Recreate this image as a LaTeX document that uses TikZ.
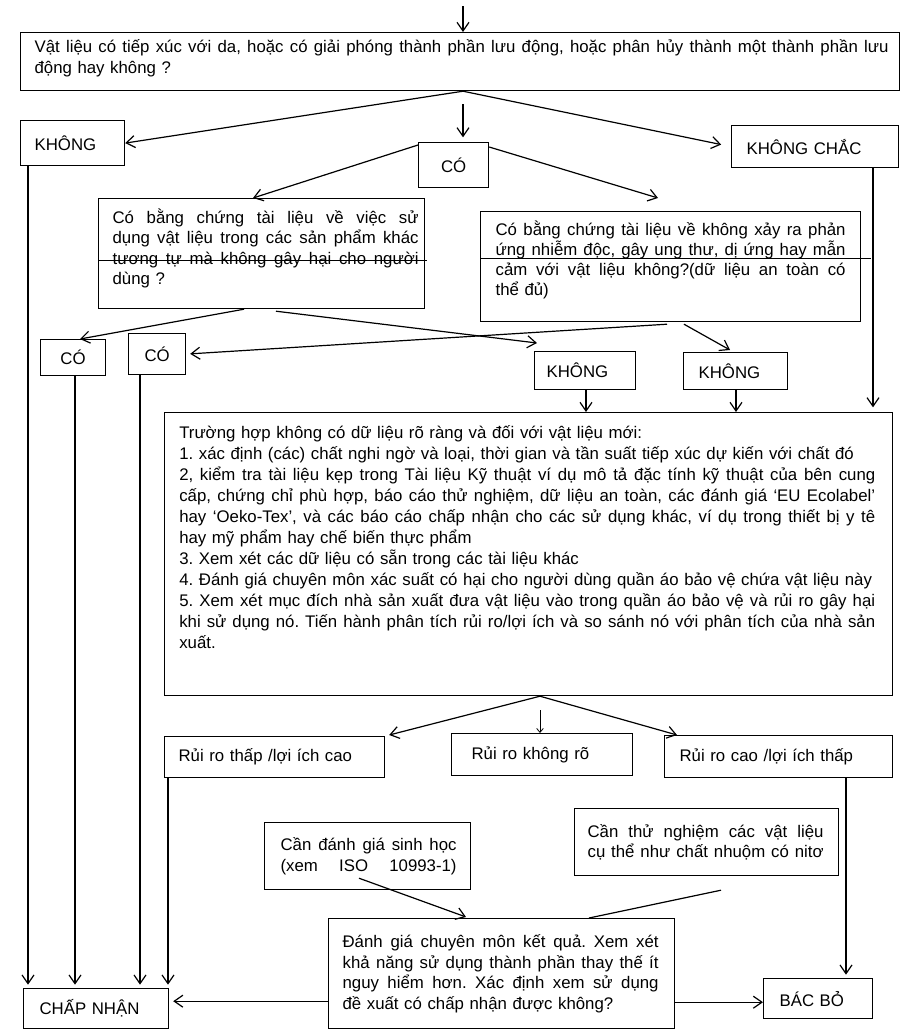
\documentclass[tikz,border=0pt]{standalone}
\usepackage{fontspec}
\setmainfont{Liberation Sans}
\usetikzlibrary{arrows.meta,calc}
\newlength\px \setlength\px{0.75pt}
\newcommand{\jl}[2]{\makebox[#1\px][s]{\spaceskip=0pt\relax #2}}
\newcommand{\dn}[1]{\rule[-#1\px]{0pt}{#1\px}}
\newcommand{\bxn}[8][]{\node[bx, minimum width=#5*0.75pt, minimum height=#6*0.75pt, inner xsep=#7*0.75pt, text width=(#5-2*#7)*0.75pt, #1] (#2) at (#3,#4) {#8};}
\tikzset{
  bx/.style={draw, line width=0.9pt, anchor=north west, align=left, inner ysep=1pt,
    font=\fontsize{12.6}{15.4}\selectfont\frenchspacing},
  txt/.style={anchor=north west, align=left, inner sep=0pt,
    font=\fontsize{12.6}{15.75}\selectfont\frenchspacing},
  ar/.style={line width=0.9pt, -{Straight Barb[length=6.5pt,width=9pt]}},
  sar/.style={line width=0.6pt, -{Straight Barb[length=3pt,width=5pt]}},
  ln/.style={line width=0.9pt},
  strike/.style={line width=0.6pt}
}
\begin{document}
\begin{tikzpicture}[x=0.75pt,y=-0.75pt]
\useasboundingbox (0,0) rectangle (901,1029);
% boxes
\bxn{q1}{20}{32}{879}{58}{14}{\jl{854}{Vật liệu có tiếp xúc với da, hoặc có giải phóng thành phần lưu động, hoặc phân hủy thành một thành phần lưu}\\động hay không ?\dn{10}}
\bxn{khong}{20}{120}{104}{45}{14}{KHÔNG}
\bxn[align=center]{co}{418}{142}{70}{45}{5}{CÓ}
\bxn{kc}{731}{125}{167}{42}{15}{KHÔNG CHẮC}
\bxn{qa}{98}{198}{326}{110}{14}{\jl{306}{Có bằng chứng tài liệu về việc sử}\\\jl{306}{dụng vật liệu trong các sản phẩm khác}\\\jl{306}{tương tự mà không gây hại cho người}\\dùng ?\dn{14}}
\bxn[font=\fontsize{12.6}{15}\selectfont\frenchspacing]{qb}{480}{211}{380}{110}{15}{\jl{350}{Có bằng chứng tài liệu về không xảy ra phản}\\\jl{350}{ứng nhiễm độc, gây ung thư, dị ứng hay mẫn}\\\jl{350}{cảm với vật liệu không?(dữ liệu an toàn có}\\thể đủ)\dn{16}}
\bxn[align=center]{co1}{40}{339}{65}{36}{4}{CÓ}
\bxn[align=center]{co2}{128}{333}{57}{41}{4}{CÓ}
\bxn{k1}{534}{351}{101}{38}{12}{KHÔNG}
\bxn{k2}{683}{352}{104}{37}{15}{KHÔNG}
\bxn{big}{164}{412}{728}{283}{15}{}
\node[txt, text width=715*0.75pt] (bigtxt) at (179,425) {Trường hợp không có dữ liệu rõ ràng và đối với vật liệu mới:\\
1. xác định (các) chất nghi ngờ và loại, thời gian và tần suất tiếp xúc dự kiến với chất đó\\
\jl{696}{2, kiểm tra tài liệu kẹp trong Tài liệu Kỹ thuật ví dụ mô tả đặc tính kỹ thuật của bên cung}\\
\jl{696}{cấp, chứng chỉ phù hợp, báo cáo thử nghiệm, dữ liệu an toàn, các đánh giá ‘EU Ecolabel’}\\
\jl{696}{hay ‘Oeko-Tex’, và các báo cáo chấp nhận cho các sử dụng khác, ví dụ trong thiết bị y tê}\\
hay mỹ phẩm hay chế biến thực phẩm\\
3. Xem xét các dữ liệu có sẵn trong các tài liệu khác\\
4. Đánh giá chuyên môn xác suất có hại cho người dùng quần áo bảo vệ chứa vật liệu này\\
\jl{696}{5. Xem xét mục đích nhà sản xuất đưa vật liệu vào trong quần áo bảo vệ và rủi ro gây hại}\\
\jl{696}{khi sử dụng nó. Tiến hành phân tích rủi ro/lợi ích và so sánh nó với phân tích của nhà sản}\\
xuất.};
\bxn{r1}{164}{736}{220}{41}{14}{Rủi ro thấp /lợi ích cao}
\bxn{r2}{451}{733}{181}{42}{20}{Rủi ro không rõ}
\bxn{r3}{664}{735}{228}{42}{15}{Rủi ro cao /lợi ích thấp}
\bxn{sh}{264}{822}{206}{67}{16}{\jl{176}{Cần đánh giá sinh học}\\\jl{176}{(xem ISO 10993-1)}}
\bxn{tn}{574}{808}{264}{67}{13}{\jl{236}{Cần thử nghiệm các vật liệu}\\\jl{236}{cụ thể như chất nhuộm có nitơ}}
\bxn{ev}{328}{918}{346}{110}{14}{\jl{316}{Đánh giá chuyên môn kết quả. Xem xét}\\\jl{316}{khả năng sử dụng thành phần thay thế ít}\\\jl{316}{nguy hiểm hơn. Xác định xem sử dụng}\\đề xuất có chấp nhận được không?}
\bxn{cn}{23}{988}{145}{40}{16}{CHẤP NHẬN}
\bxn{bb}{763}{978}{109}{40}{16}{BÁC BỎ}
% connectors
\coordinate (top0) at (463,6);
\draw[ar] (top0) -- (top0 |- q1.north);
\coordinate (q1s) at (q1.south -| top0);
\draw[ar] (q1s) -- (khong.east);
\draw[ar, shorten >=7.5pt] (q1s) -- (kc.west);
\coordinate (m1) at ($(q1s)+(0,13)$);
\draw[ar, shorten >=3.5pt] (m1) -- (m1 |- co.north);
\draw[ar] ($(co.north west)+(0,3)$) -- ($(qa.north west)+(155,0)$);
\coordinate (qbarr) at ($(qb.north west)+(178,-13)$);
\draw[ar] ($(co.north east)+(0,5)$) -- (qbarr);
\draw[ar] ($(qa.south west)+(146,0)$) -- ($(co1.north west)+(40,0)$);
\draw[ar] ($(qa.south west)+(178,2)$) -- ($(k1.north west)+(3,-8)$);
\draw[ar, shorten >=3pt] ($(qb.south west)+(187,2)$) -- (co2.east);
\draw[ar] ($(qb.south west)+(204,2)$) -- ($(k2.north west)+(47,-2)$);
% strike-through lines
\draw[strike] ($(qa.north west)+(0,62)$) -- ($(qa.north west)+(329,62)$);
\draw[strike] ($(qb.north west)+(0,47)$) -- ($(qb.north west)+(391,47)$);
% verticals to CHAP NHAN
\coordinate (v1) at ($(khong.south west)+(8,0)$);
\draw[ar, shorten >=2.5pt] (v1) -- (v1 |- cn.north);
\coordinate (v2) at ($(co1.south west)+(35,0)$);
\draw[ar, shorten >=2.5pt] (v2) -- (v2 |- cn.north);
\coordinate (v3) at ($(co2.south west)+(12,0)$);
\draw[ar, shorten >=2.5pt] (v3) -- (v3 |- cn.north);
\coordinate (v4) at ($(r1.south west)+(4,0)$);
\draw[ar, shorten >=2.5pt] (v4) -- (v4 |- cn.north);
% verticals into big box
\coordinate (v5) at ($(k1.south west)+(52,0)$);
\draw[ar] (v5) -- (v5 |- big.north);
\coordinate (v6) at ($(k2.south west)+(53,0)$);
\draw[ar] (v6) -- (v6 |- big.north);
\coordinate (v7) at ($(kc.south west)+(142,0)$);
\draw[ar, shorten >=3.5pt] (v7) -- (v7 |- big.north);
% big box branches
\coordinate (bb0) at ($(big.south west)+(376,0)$);
\draw[ar] (bb0) -- ($(r1.north east)+(4,-1)$);
\draw[sar] ($(bb0)+(0,14)$) -- (bb0 |- r2.north);
\draw[ar] (bb0) -- ($(r3.north west)+(13,0)$);
\coordinate (v8) at ($(r3.south west)+(182,0)$);
\draw[ar, shorten >=2.5pt] (v8) -- (v8 |- bb.north);
% into evaluation box
\draw[ar] ($(sh.south west)+(95,-12)$) -- ($(ev.north west)+(138,-1)$);
\draw[ln] ($(tn.south west)+(147,14)$) -- ($(ev.north west)+(261,0)$);
\coordinate (evl) at ($(ev.south west)+(0,-28)$);
\draw[ar, shorten >=3pt] (evl) -- (evl -| cn.east);
\coordinate (evr) at ($(ev.south east)+(0,-27)$);
\draw[ar] (evr) -- (evr -| bb.west);
\end{tikzpicture}
\end{document}
